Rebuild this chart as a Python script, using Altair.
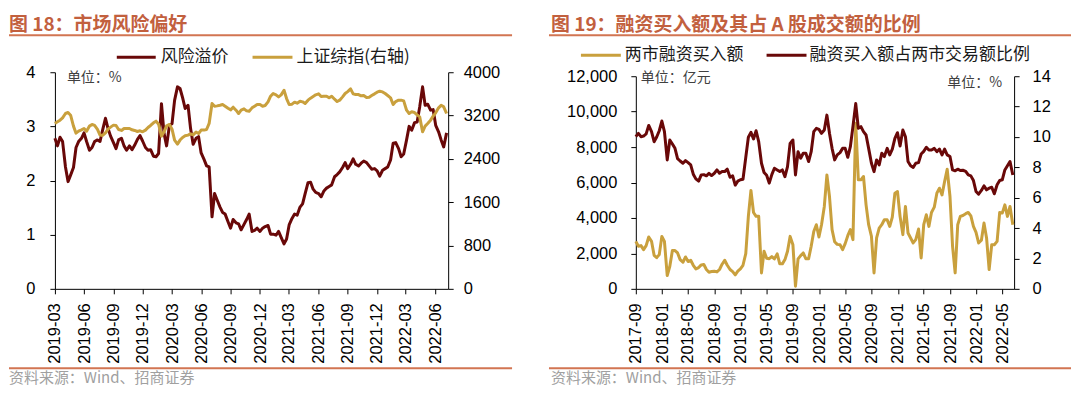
import altair as alt
import pandas as pd

# ---------------- data: figure 18 (risk premium vs SSE composite) ----------------
L_START, L_END = "2019-03-01", "2022-07-07"
L_DOMAIN = ("2019-03-01", "2022-07-12")
L_TICKS = ["2019-03", "2019-06", "2019-09", "2019-12", "2020-03", "2020-06", "2020-09",
           "2020-12", "2021-03", "2021-06", "2021-09", "2021-12", "2022-03", "2022-06"]

risk_premium = [
    2.78, 2.64, 2.80, 2.72, 2.25, 1.98, 2.10, 2.24, 2.61, 2.72,
    2.78, 2.88, 2.72, 2.56, 2.61, 2.72, 2.75, 2.72, 2.93, 3.15,
    2.96, 2.82, 2.70, 2.59, 2.75, 2.78, 2.64, 2.56, 2.64, 2.57,
    2.65, 2.76, 2.83, 2.73, 2.61, 2.56, 2.57, 2.45, 2.44, 2.50,
    3.42, 2.87, 2.64, 3.02, 3.05, 3.48, 3.73, 3.70, 3.53, 3.33,
    3.39, 2.96, 2.67, 2.78, 2.81, 2.51, 2.39, 2.27, 2.25, 1.33,
    1.76, 1.64, 1.51, 1.41, 1.38, 1.24, 1.12, 1.28, 1.22, 1.20,
    1.09, 1.19, 1.28, 1.38, 1.06, 1.08, 1.12, 1.06, 1.12, 1.15,
    1.17, 1.01, 1.01, 0.99, 1.06, 0.95, 0.83, 0.92, 1.18, 1.30,
    1.38, 1.36, 1.51, 1.57, 1.76, 1.96, 1.97, 1.84, 1.78, 1.76,
    1.70, 1.80, 1.86, 1.89, 1.92, 2.07, 2.11, 2.16, 2.24, 2.33,
    2.22, 2.30, 2.40, 2.30, 2.27, 2.32, 2.36, 2.33, 2.27, 2.21,
    2.22, 2.18, 2.08, 2.19, 2.22, 2.25, 2.38, 2.69, 2.70, 2.59,
    2.44, 2.49, 2.75, 3.00, 2.93, 3.07, 3.08, 3.36, 3.73, 3.39,
    3.41, 3.30, 3.31, 3.02, 2.90, 2.75, 2.62, 2.88,
]

sse_index = [
    3054, 3084, 3115, 3158, 3238, 3256, 3207, 3005, 2875, 2912,
    2937, 2961, 2912, 3005, 3035, 3017, 2943, 2839, 2833, 2881,
    2949, 2986, 3023, 3017, 2943, 2925, 2961, 2961, 2961, 2937,
    2925, 2906, 2918, 2900, 2931, 2980, 3017, 3066, 3097, 3041,
    2820, 2900, 3011, 3035, 2949, 2747, 2673, 2747, 2796, 2826,
    2839, 2863, 2845, 2894, 2869, 2931, 2931, 2943, 3054, 3422,
    3373, 3379, 3391, 3404, 3373, 3336, 3305, 3355, 3299, 3238,
    3299, 3324, 3287, 3281, 3342, 3373, 3404, 3404, 3373, 3385,
    3453, 3557, 3607, 3582, 3545, 3582, 3668, 3514, 3404, 3410,
    3447, 3428, 3465, 3453, 3422, 3484, 3521, 3551, 3582, 3601,
    3551, 3557, 3557, 3527, 3557, 3502, 3459, 3484, 3545, 3607,
    3643, 3693, 3601, 3588, 3588, 3564, 3570, 3533, 3539, 3570,
    3601, 3631, 3650, 3637, 3607, 3570, 3527, 3404, 3459, 3484,
    3484, 3471, 3299, 3238, 3269, 3256, 3213, 3176, 2900, 3005,
    3054, 3115, 3189, 3250, 3342, 3391, 3361, 3238,
]

# ---------------- data: figure 19 (margin buying) ----------------
R_START, R_END = "2017-09-01", "2022-06-19"
R_DOMAIN = ("2017-09-01", "2022-06-25")
R_TICKS = ["2017-09", "2018-01", "2018-05", "2018-09", "2019-01", "2019-05", "2019-09",
           "2020-01", "2020-05", "2020-09", "2021-01", "2021-05", "2021-09", "2022-01", "2022-05"]

margin_buy = [
    2680, 2400, 2440, 2210, 2440, 2925, 2680, 1890, 1760, 1930,
    2960, 2680, 750, 1275, 2160, 2160, 2025, 1650, 1500, 1800,
    1540, 1610, 1330, 1125, 1200, 1350, 1370, 1090, 940, 975,
    995, 955, 1090, 1390, 1610, 1330, 1090, 975, 790, 995,
    1125, 1330, 1990, 4090, 5550, 4310, 4090, 4090, 900, 2120,
    1725, 1700, 1820, 1690, 1970, 1410, 1410, 1650, 2120, 2960,
    2490, 150, 1690, 1875, 2025, 1700, 1700, 2400, 3240, 3620,
    2925, 3620, 4650, 6430, 5210, 3340, 2660, 2510, 2490, 2210,
    2550, 3000, 3340, 2775, 9340, 6150, 6150, 6340, 4740, 3620,
    2960, 900, 2870, 3430, 3620, 3900, 3900, 3525, 4050, 5400,
    5490, 4090, 3060, 4650, 3150, 2870, 2590, 2775, 3375, 1745,
    3620, 4180, 3525, 4310, 4610, 5400, 5680, 5300, 6060, 6750,
    5210, 2400, 900, 3620, 4090, 4140, 4240, 4310, 4120, 3525,
    3190, 2590, 2740, 3710, 2870, 1090, 2490, 2490, 2680, 4310,
    4275, 4740, 4090, 4650, 3620,
]

margin_ratio = [
    10.02, 10.24, 10.02, 10.06, 10.20, 10.76, 10.35, 9.69, 10.00, 10.41,
    11.05, 10.35, 8.49, 9.80, 9.54, 9.25, 8.58, 8.42, 8.27, 8.44,
    8.31, 8.16, 7.55, 7.24, 7.09, 7.50, 7.52, 7.44, 7.61, 7.46,
    7.61, 7.83, 7.61, 7.72, 7.72, 7.88, 7.35, 7.44, 6.83, 7.09,
    7.18, 7.22, 8.66, 9.98, 10.30, 9.87, 10.41, 9.69, 8.27, 7.66,
    7.48, 6.96, 7.52, 7.94, 7.83, 7.72, 7.83, 7.39, 8.05, 9.58,
    9.80, 7.50, 9.03, 8.60, 8.93, 8.93, 8.38, 9.03, 10.35, 10.57,
    10.50, 10.24, 10.46, 11.44, 10.24, 9.25, 8.49, 8.82, 8.97, 9.25,
    9.25, 8.66, 9.36, 10.68, 12.20, 10.57, 10.68, 10.35, 10.13, 9.25,
    8.27, 7.72, 8.49, 8.16, 8.93, 8.71, 9.25, 8.82, 9.20, 9.91,
    10.28, 9.40, 10.46, 10.02, 8.38, 8.10, 8.00, 8.27, 8.31, 8.88,
    9.05, 9.32, 9.14, 9.14, 9.25, 9.03, 9.20, 8.82, 9.20, 8.82,
    8.71, 7.83, 7.77, 7.88, 7.79, 7.81, 7.74, 7.50, 7.44, 7.13,
    6.41, 6.24, 6.48, 6.78, 6.52, 6.63, 6.69, 6.26, 6.85, 7.13,
    7.18, 7.83, 8.10, 8.38, 7.50,
]

# ---------------- styling ----------------
RED = "#690808"
GOLD = "#C9A03D"
ORANGE = "#D27552"
TITLE_C = "#C2603E"
CJK = "Noto Sans CJK SC"
LAT = "Liberation Sans"
LBL = 16.5
LW_LINE = 3


def dates(start, end, n):
    return pd.date_range(start, end, periods=n).strftime("%Y-%m-%d").tolist()


def dt(s):
    y, m = int(s[:4]), int(s[5:7])
    d = int(s[8:10]) if len(s) > 7 else 1
    return alt.DateTime(year=y, month=m, date=d, utc=True)


AX = dict(labelFont=LAT, labelFontSize=LBL, labelColor="#000000", domainColor="#000000",
          tickColor="#000000", tickSize=5, grid=False, title=None, domainWidth=1, tickWidth=1)


def xaxis(ticks):
    return alt.Axis(values=[dt(t) for t in ticks], format="%Y-%m", labelAngle=270,
                    labelPadding=9, labelOverlap=False, labelFlush=False, **AX)


def yaxis(orient, values, pad, fmt):
    return alt.Axis(orient=orient, values=values, labelPadding=pad, labelOverlap=False,
                    format=fmt, **AX)


one = pd.DataFrame({"k": [0]})


def txt(x, y, s, size, color, weight="normal", align="left", font=CJK):
    return alt.Chart(one).mark_text(align=align, baseline="middle", font=font, fontSize=size,
                                    color=color, fontWeight=weight).encode(
        x=alt.value(x), y=alt.value(y), text=alt.value(s))


def hrule(x1, x2, y, color, w, opacity=1):
    return alt.Chart(one).mark_rule(color=color, strokeWidth=w, opacity=opacity).encode(
        x=alt.value(x1), x2=alt.value(x2), y=alt.value(y))


def line(df, color, x, y):
    return alt.Chart(df).mark_line(color=color, strokeWidth=LW_LINE, strokeJoin="round").encode(x=x, y=y)


# vertical layout (relative to the plot-area top)
GUARD_TOP = -64
GUARD_BOT = 316
TITLE_Y = -47.5
TITLE_FS = 19
TOPRULE_Y = -37
BOTRULE_Y = 296.5
FOOT_Y = 306.5
FOOT_FS = 15

# ---------------- left panel ----------------
LW, LH = 394, 217
xl = alt.X("date:T", scale=alt.Scale(type="utc", domain=[dt(L_DOMAIN[0]), dt(L_DOMAIN[1])]),
           axis=xaxis(L_TICKS))
df_rp = pd.DataFrame({"date": dates(L_START, L_END, len(risk_premium)), "v": risk_premium})
df_sh = pd.DataFrame({"date": dates(L_START, L_END, len(sse_index)), "v": sse_index})

rp_line = line(df_rp, RED, xl, alt.Y("v:Q", scale=alt.Scale(domain=[0, 4], nice=False),
                                      axis=yaxis("left", [0, 1, 2, 3, 4], 15, "d")))
sh_line = line(df_sh, GOLD, xl, alt.Y("v:Q", scale=alt.Scale(domain=[0, 4000], nice=False),
                                       axis=yaxis("right", [0, 800, 1600, 2400, 3200, 4000], 10, "d")))

left = alt.layer(
    rp_line, sh_line,
    hrule(-46, 0, GUARD_TOP, "#ffffff", 1, opacity=0),
    hrule(-46, 0, GUARD_BOT, "#ffffff", 1, opacity=0),
    txt(-46, TITLE_Y, "图 18：市场风险偏好", TITLE_FS, TITLE_C, weight="bold"),
    hrule(-46, 458, TOPRULE_Y, ORANGE, 2),
    hrule(62, 101, -15, RED, 3),
    txt(106, -15, "风险溢价", 17, "#1a1a1a"),
    hrule(198, 238, -15, GOLD, 3),
    txt(242, -15, "上证综指(右轴)", 17, "#1a1a1a"),
    txt(12, 6, "单位：%", 14, "#404040"),
    hrule(-46, 458, BOTRULE_Y, ORANGE, 2),
    txt(-46, FOOT_Y, "资料来源：Wind、招商证券", FOOT_FS, "#A0A0A0"),
).resolve_scale(y="independent").properties(width=LW, height=LH)

# ---------------- right panel ----------------
RW, RH = 379, 217
xr = alt.X("date:T", scale=alt.Scale(type="utc", domain=[dt(R_DOMAIN[0]), dt(R_DOMAIN[1])]),
           axis=xaxis(R_TICKS))
df_mb = pd.DataFrame({"date": dates(R_START, R_END, len(margin_buy)), "v": margin_buy})
df_mr = pd.DataFrame({"date": dates(R_START, R_END, len(margin_ratio)), "v": margin_ratio})

mb_line = line(df_mb, GOLD, xr, alt.Y("v:Q", scale=alt.Scale(domain=[0, 12000], nice=False, range=[RH, 4]),
                                       axis=yaxis("left", [0, 2000, 4000, 6000, 8000, 10000, 12000], 14, ",.0f")))
mr_line = line(df_mr, RED, xr, alt.Y("v:Q", scale=alt.Scale(domain=[0, 14], nice=False, range=[RH, 4]),
                                      axis=yaxis("right", [0, 2, 4, 6, 8, 10, 12, 14], 13, "d")))

right = alt.layer(
    mb_line, mr_line,
    txt(-85, TITLE_Y, "图 19：融资买入额及其占 A 股成交额的比例", TITLE_FS, TITLE_C, weight="bold"),
    hrule(-87, 436, TOPRULE_Y, ORANGE, 2),
    hrule(-55, -15, -17, GOLD, 3),
    txt(-11, -17, "两市融资买入额", 17, "#1a1a1a"),
    hrule(131, 171, -17, RED, 3),
    txt(174, -17, "融资买入额占两市交易额比例", 17, "#1a1a1a"),
    txt(5, 6, "单位：亿元", 14, "#404040"),
    txt(367, 11, "单位：%", 14, "#404040", align="right"),
    hrule(-87, 436, BOTRULE_Y, ORANGE, 2),
    txt(-85, FOOT_Y, "资料来源：Wind、招商证券", FOOT_FS, "#A0A0A0"),
).resolve_scale(y="independent").properties(width=RW, height=RH)

chart = alt.hconcat(left, right, spacing=188, bounds="flush", padding=0).configure_view(stroke=None)

chart.save("out.html", embed_options={"renderer": "svg", "actions": False})
